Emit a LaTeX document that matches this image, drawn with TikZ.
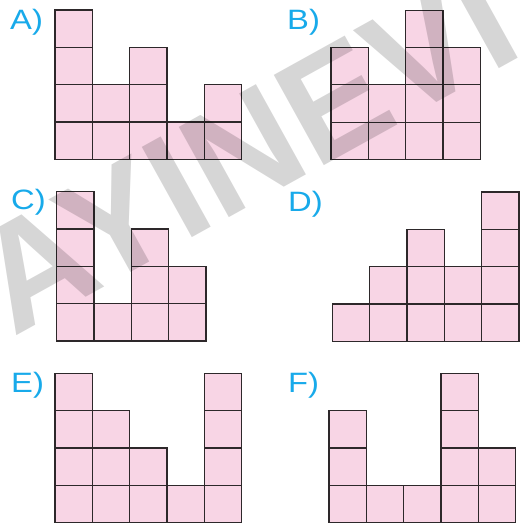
\documentclass[tikz,border=0pt]{standalone}
\usepackage{fontspec}
\setmainfont{Liberation Sans}
\newfontfamily\labfont[FakeStretch=1.17]{Liberation Sans}
\definecolor{cellpink}{RGB}{248,213,229}
\definecolor{celledge}{RGB}{45,40,42}
\definecolor{labblue}{RGB}{24,170,234}
\definecolor{wmgray}{RGB}{214,214,214}
\def\sq{37.33}
\newcommand\panel[3]{%
  \foreach \h [count=\i from 0] in {#3} {
    \foreach \j in {1,...,\h} {
      \draw[cell] ({#1+\i*\sq},{#2-\j*\sq}) rectangle ++(\sq,\sq);
    }
  }
}
\begin{document}
\begin{tikzpicture}[x=1pt,y=-1pt,
  cell/.style={fill=cellpink,draw=celledge,line width=1.1pt},
  lab/.style={text=labblue,font=\labfont\fontsize{28}{28}\selectfont,inner sep=0pt,anchor=base west},
  wm/.style={text=wmgray,font=\fontsize{150}{150}\selectfont\bfseries,inner sep=0pt,rotate=29,blend mode=multiply}]
\useasboundingbox (0,0) rectangle (527,527);
\panel{55}{159.3}{4,2,3,1,2}
\panel{331}{159.5}{3,2,4,3}
\panel{56.7}{341}{4,1,3,2}
\panel{332.3}{341.3}{1,2,3,2,4}
\panel{55}{522.7}{4,3,2,1,4}
\panel{329}{522.7}{3,1,1,4,2}
\node[lab] (la) at (10,29.3) {A)};
\node[lab] (lb) at (287,29.3) {B)};
\node[lab] (lc) at (11,209.5) {C)};
\node[lab] (ld) at (288,211.5) {D)};
\node[lab] (le) at (11,392) {E)};
\node[lab] (lf) at (288,392) {F)};
\node[wm] (wm) at (245,150) {AYINEVI};
\end{tikzpicture}
\end{document}
